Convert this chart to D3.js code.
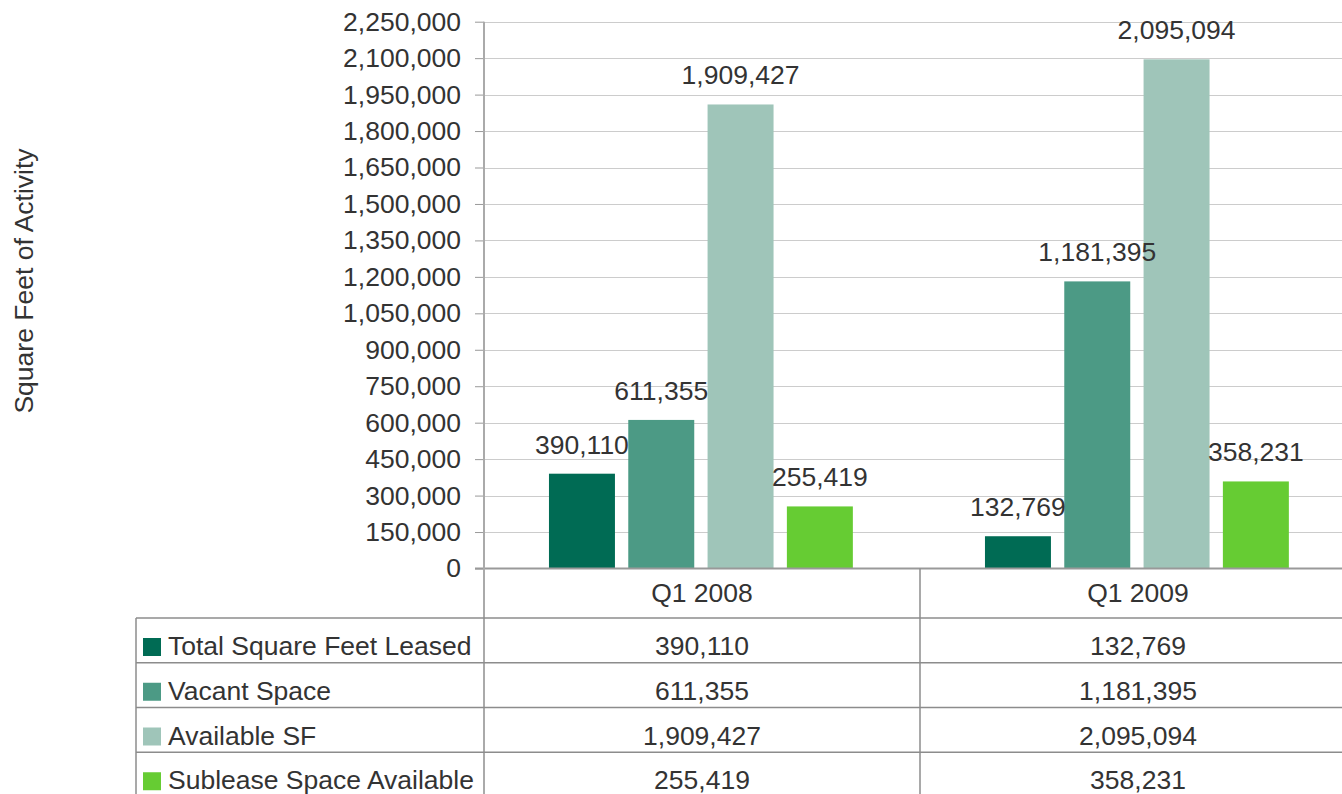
<!DOCTYPE html>
<html>
<head>
<meta charset="utf-8">
<script src="https://cdn.jsdelivr.net/npm/d3@7"></script>
<style>
  body { margin: 0; background: #fff; }
  text { font-family: "Liberation Sans", Arial, sans-serif; fill: #333; }
</style>
</head>
<body>
<svg id="chart"></svg>
<script>
var width = 1342,
  height = 794;

// data
var categories = ['Q1 2008', 'Q1 2009'];
var seriesNames = ['Total Square Feet Leased', 'Vacant Space', 'Available SF', 'Sublease Space Available'];
var seriesColors = ['#006b54', '#4c9a85', '#9fc5b9', '#66cc33'];
var totalLeased = [390110, 132769];
var vacantSpace = [611355, 1181395];
var availableSF = [1909427, 2095094];
var subleaseSpace = [255419, 358231];
var yTicks = d3.range(0, 2250001, 150000);

var seriesValues = [totalLeased, vacantSpace, availableSF, subleaseSpace];

var plotLeft = 484,
  plotRight = 1356,
  plotTop = 21.7,
  plotBottom = 568.5,
  tableTop = 618,
  tableBottom = 797,
  tableLeft = 136;

var fontSize = '26.5px';

var fmt = d3.format(',');

var svg = d3.select('#chart')
  .attr('width', width)
  .attr('height', height);

var x0 = d3.scaleBand()
  .domain(categories)
  .range([plotLeft, plotRight]);

var x1 = d3.scaleBand()
  .domain(seriesNames)
  .range([x0.bandwidth() * 0.149, x0.bandwidth() * 0.846])
  .paddingInner(0.168);

var y = d3.scaleLinear()
  .domain([0, 2250000])
  .range([plotBottom, plotTop]);

var rows = d3.scaleBand()
  .domain(seriesNames)
  .range([tableTop, tableBottom]);

// gridlines
svg.append('g')
  .selectAll('line')
  .data(yTicks.slice(1))
  .enter().append('line')
  .attr('x1', plotLeft)
  .attr('x2', plotRight)
  .attr('y1', function(d) { return Math.round(y(d)) + 0.5; })
  .attr('y2', function(d) { return Math.round(y(d)) + 0.5; })
  .attr('stroke', '#cccccc')
  .attr('stroke-width', 1);

// y axis
var yAxis = svg.append('g')
  .attr('transform', 'translate(' + plotLeft + ',0)')
  .call(d3.axisLeft(y)
    .tickValues(yTicks)
    .tickSize(9)
    .tickPadding(14)
    .tickFormat(fmt));

yAxis.select('.domain').remove();
yAxis.selectAll('.tick line').attr('stroke', '#999');
yAxis.selectAll('.tick text')
  .style('font-size', fontSize)
  .attr('fill', '#333');

// bars
var groups = svg.append('g')
  .selectAll('g')
  .data(categories)
  .enter().append('g')
  .attr('transform', function(d) { return 'translate(' + x0(d) + ',0)'; });

groups.selectAll('rect')
  .data(function(c, ci) {
    return seriesNames.map(function(s, si) {
      return { key: s, value: seriesValues[si][ci], color: seriesColors[si] };
    });
  })
  .enter().append('rect')
  .attr('x', function(d) { return x1(d.key); })
  .attr('width', x1.bandwidth())
  .attr('y', function(d) { return y(d.value); })
  .attr('height', function(d) { return y(0) - y(d.value); })
  .attr('fill', function(d) { return d.color; });

// value labels on top of bars
groups.selectAll('text')
  .data(function(c, ci) {
    return seriesNames.map(function(s, si) {
      return { key: s, value: seriesValues[si][ci] };
    });
  })
  .enter().append('text')
  .attr('x', function(d) { return x1(d.key) + x1.bandwidth() / 2; })
  .attr('y', function(d) { return y(d.value) - 20; })
  .attr('text-anchor', 'middle')
  .style('font-size', fontSize)
  .text(function(d) { return fmt(d.value); });

// axis line and zero line
svg.append('line')
  .attr('x1', plotLeft - 9).attr('x2', plotRight)
  .attr('y1', plotBottom).attr('y2', plotBottom)
  .attr('stroke', '#999').attr('stroke-width', 2);

svg.append('line')
  .attr('x1', plotLeft).attr('x2', plotLeft)
  .attr('y1', plotTop).attr('y2', height)
  .attr('stroke', '#aaa').attr('stroke-width', 2);

// y axis title
svg.append('text')
  .attr('transform', 'translate(33,281) rotate(-90)')
  .attr('text-anchor', 'middle')
  .style('font-size', fontSize)
  .text('Square Feet of Activity');

// data table
var table = svg.append('g');

table.selectAll('line.hrow')
  .data(seriesNames)
  .enter().append('line')
  .attr('class', 'hrow')
  .attr('x1', tableLeft)
  .attr('x2', plotRight)
  .attr('y1', function(d) { return rows(d); })
  .attr('y2', function(d) { return rows(d); })
  .attr('stroke', '#8c8c8c')
  .attr('stroke-width', 1.5);

table.append('line')
  .attr('x1', tableLeft).attr('x2', tableLeft)
  .attr('y1', tableTop).attr('y2', height)
  .attr('stroke', '#8c8c8c').attr('stroke-width', 1.5);

table.append('line')
  .attr('x1', x0(categories[1])).attr('x2', x0(categories[1]))
  .attr('y1', plotBottom).attr('y2', height)
  .attr('stroke', '#8c8c8c').attr('stroke-width', 1.5);

// category header
table.selectAll('text.cat')
  .data(categories)
  .enter().append('text')
  .attr('class', 'cat')
  .attr('x', function(d) { return x0(d) + x0.bandwidth() / 2; })
  .attr('y', 602)
  .attr('text-anchor', 'middle')
  .style('font-size', fontSize)
  .text(function(d) { return d; });

// legend keys and names
table.selectAll('rect.key')
  .data(seriesNames)
  .enter().append('rect')
  .attr('class', 'key')
  .attr('x', 143)
  .attr('y', function(d) { return rows(d) + 20; })
  .attr('width', 18)
  .attr('height', 18)
  .attr('fill', function(d, i) { return seriesColors[i]; });

table.selectAll('text.name')
  .data(seriesNames)
  .enter().append('text')
  .attr('class', 'name')
  .attr('x', 168)
  .attr('y', function(d) { return rows(d) + 37; })
  .style('font-size', fontSize)
  .text(function(d) { return d; });

// table values
seriesNames.forEach(function(s, si) {
  table.selectAll('text.v' + si)
    .data(categories)
    .enter().append('text')
    .attr('class', 'v' + si)
    .attr('x', function(d) { return x0(d) + x0.bandwidth() / 2; })
    .attr('y', rows(s) + 37)
    .attr('text-anchor', 'middle')
    .style('font-size', fontSize)
    .text(function(d, ci) { return fmt(seriesValues[si][ci]); });
});
</script>
</body>
</html>
